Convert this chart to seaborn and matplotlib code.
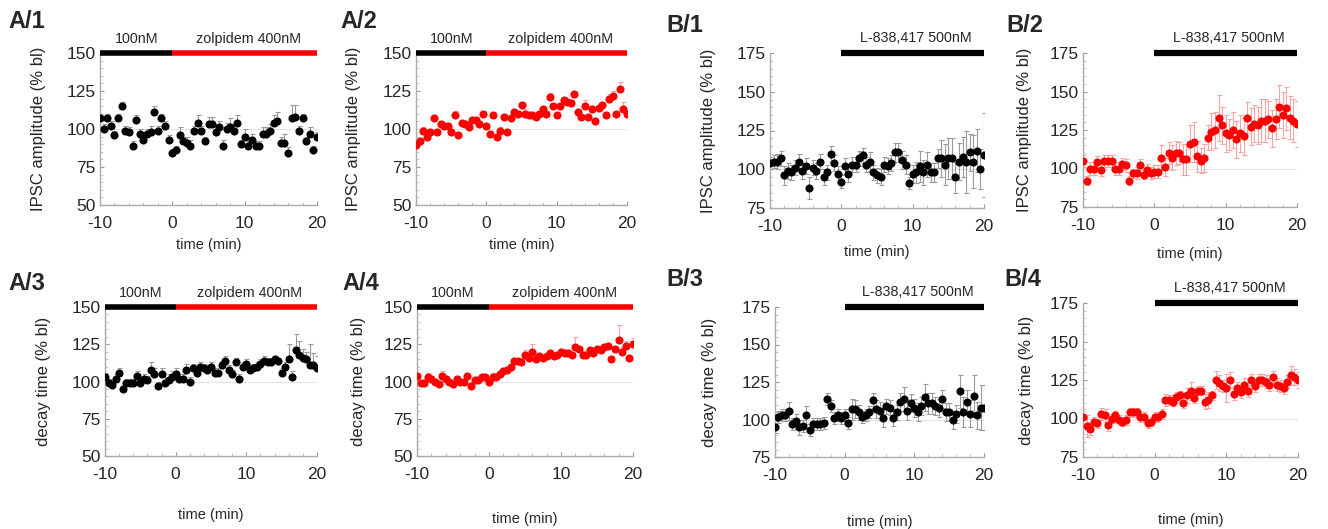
import numpy as np
import pandas as pd
import seaborn as sns
import matplotlib
matplotlib.use("Agg")
from matplotlib import pyplot as plt

# tiempo de registro (min), una muestra cada 30 s
time_min = np.arange(-10, 20.5, 0.5)

# A/1  IPSC amplitude, 100nM -> zolpidem 400nM (control)
a1_val = [107, 100, 107, 102, 96, 107, 115, 99, 98, 89,
          106, 97, 93, 97, 98, 111, 99, 107, 102, 93,
          84, 86, 96, 92, 91, 89, 99, 104, 99, 92,
          103, 103, 98, 101, 89, 100, 101, 99, 104, 90,
          95, 89, 93, 89, 89, 97, 97, 99, 104, 105,
          91, 91, 84, 107, 108, 99, 107, 92, 97, 86,
          95]
a1_err = [3, 3, 3, 3, 3, 3, 3, 3, 3, 3,
          3, 3, 3, 3, 4, 4, 3, 3, 3, 3,
          3, 3, 5, 3, 4, 4, 3, 5, 3, 3,
          5, 5, 4, 4, 4, 4, 6, 4, 5, 3,
          5, 3, 4, 3, 3, 4, 4, 4, 5, 6,
          4, 6, 4, 9, 8, 3, 3, 3, 4, 3,
          3]

# A/2
a2_val = [89.5, 92, 99, 95, 98, 107, 98, 103, 102, 102,
          98, 109, 96, 104, 103, 101, 106, 106, 103, 110,
          102, 97, 109, 95, 99, 108, 98, 107, 111, 110,
          116, 110, 109, 109, 108, 110, 113, 110, 121, 115,
          109, 115, 119, 118, 117, 123, 111, 108, 115, 108,
          113, 105, 114, 116, 109, 120, 122, 110, 126, 113,
          110]
a2_err = [2, 2, 2, 2, 2, 2, 2, 2, 2, 2,
          2, 3, 2, 2, 2, 2, 2, 2, 2, 2,
          2, 2, 2, 2, 2, 2, 2, 2, 2, 2,
          2, 3, 2, 2, 2, 2, 2, 2, 3, 2,
          2, 2, 2, 2, 2, 2, 2, 2, 4, 2,
          2, 2, 2, 2, 2, 3, 3, 2, 5, 5,
          2]

# A/3  decay time
a3_val = [103, 99, 97.5, 102, 106, 95, 99, 99, 99, 104,
          99, 102, 101, 108, 105, 97, 105, 99, 101, 103,
          105, 102, 102, 108, 100, 109, 106, 110, 109, 108,
          110, 106, 106, 111, 114, 108, 105, 113, 102, 110,
          112, 108, 109, 110, 112, 114, 113, 113, 115, 114,
          106, 110, 115, 103, 121, 118, 116, 115, 111, 111,
          109]
a3_err = [3, 3, 3, 3, 3, 2, 3, 3, 3, 3,
          4, 3, 3, 5, 4, 3, 4, 4, 4, 4,
          4, 3, 3, 4, 3, 3, 4, 3, 3, 3,
          3, 3, 3, 3, 3, 3, 3, 3, 3, 3,
          3, 3, 3, 3, 3, 3, 3, 2, 2, 2,
          3, 3, 10, 4, 11, 9, 6, 5, 14, 8,
          8]

# A/4
a4_val = [104, 99, 99, 103, 102, 100, 98, 104, 102, 100,
          98, 102, 100, 100, 104, 97, 101, 101, 103, 103,
          100, 103, 103, 105, 107, 108, 110, 114, 114, 113,
          118, 116, 120, 115, 117, 116, 117, 119, 117, 118,
          120, 119, 119, 118, 123, 122, 118, 118, 121, 119,
          122, 121, 123, 124, 115, 122, 128, 120, 124, 116,
          125]
a4_err = [2, 2, 2, 3, 2, 2, 2, 3, 2, 2,
          2, 2, 2, 2, 2, 2, 2, 2, 2, 2,
          2, 3, 2, 2, 2, 2, 2, 2, 2, 2,
          3, 2, 5, 2, 2, 2, 2, 2, 2, 2,
          2, 2, 2, 2, 7, 2, 2, 2, 2, 2,
          2, 2, 2, 2, 2, 2, 10, 3, 3, 2,
          4]

# B/1  IPSC amplitude, L-838,417 500nM
b1_val = [104, 105, 105, 107, 96, 99, 98, 101, 105, 99,
          102, 88, 101, 99, 105, 95, 98, 110, 104, 97,
          92, 102, 97, 103, 103, 107, 109, 103, 105, 98,
          96, 95, 103, 102, 104, 111, 111, 106, 103, 91,
          97, 98, 102, 98, 103, 98, 98, 107, 107, 103,
          107, 107, 95, 105, 108, 105, 111, 105, 112, 100,
          109]
b1_err = [4, 4, 5, 5, 6, 5, 5, 5, 5, 5,
          5, 7, 5, 5, 5, 5, 5, 5, 5, 5,
          4, 5, 5, 5, 5, 5, 5, 5, 6, 5,
          5, 5, 5, 5, 5, 6, 6, 6, 6, 4,
          6, 7, 10, 8, 8, 6, 6, 6, 12, 13,
          13, 13, 10, 12, 13, 20, 12, 17, 14, 13,
          27]

# B/2
b2_val = [105, 92, 100, 100, 104, 99, 105, 105, 105, 100,
          100, 103, 102, 92, 97, 97, 102, 96, 99, 97,
          98, 98, 107, 101, 110, 107, 110, 110, 106, 106,
          116, 117, 108, 105, 107, 120, 124, 125, 133, 128,
          123, 122, 125, 119, 123, 121, 133, 127, 129, 128,
          131, 131, 132, 126, 132, 140, 135, 139, 133, 131,
          129]
b2_err = [4, 3, 4, 4, 4, 4, 4, 4, 4, 4,
          4, 4, 4, 3, 3, 4, 4, 3, 4, 4,
          4, 4, 8, 6, 7, 8, 8, 7, 10, 10,
          12, 13, 10, 8, 9, 8, 12, 12, 15, 12,
          12, 10, 12, 12, 12, 12, 10, 12, 12, 12,
          14, 14, 12, 12, 13, 14, 15, 14, 14, 14,
          15]

# B/3  decay time
b3_val = [95, 102, 103, 103, 106, 97, 99, 95, 96, 103,
          93, 97, 97, 97, 98, 114, 109, 101, 103, 101,
          103, 98, 107, 107, 105, 102, 103, 105, 113, 107,
          106, 101, 109, 108, 101, 105, 112, 114, 106, 111,
          108, 105, 109, 115, 111, 111, 109, 108, 114, 105,
          105, 100, 104, 119, 105, 112, 104, 116, 103, 108,
          108]
b3_err = [4, 4, 4, 4, 6, 4, 5, 5, 4, 6,
          4, 4, 4, 4, 4, 4, 4, 4, 4, 4,
          4, 4, 7, 6, 5, 4, 4, 4, 5, 6,
          6, 6, 5, 5, 5, 5, 6, 8, 6, 6,
          6, 6, 6, 9, 7, 7, 6, 6, 6, 6,
          6, 6, 6, 11, 10, 8, 9, 14, 9, 15,
          15]

# B/4
b4_val = [101, 95, 93.5, 98, 97, 103, 102, 96, 100, 102,
          99, 98, 99, 104, 104, 104, 101, 101, 97, 98,
          101, 101, 103, 112, 112, 111, 114, 115, 110, 115,
          118, 113, 118, 118, 111, 112, 115, 125, 123, 121,
          120, 125, 116, 120, 117, 122, 118, 125, 121, 125,
          125, 124, 122, 127, 122, 121, 120, 124, 128, 127,
          125]
b4_err = [5, 7, 4, 3, 3, 4, 4, 4, 3, 3,
          3, 3, 3, 3, 3, 3, 3, 3, 3, 3,
          3, 3, 3, 4, 3, 3, 3, 3, 3, 5,
          6, 3, 3, 3, 5, 5, 3, 6, 5, 4,
          9, 5, 4, 4, 4, 4, 4, 4, 4, 4,
          4, 4, 4, 4, 4, 4, 4, 4, 6, 5,
          5]

sns.set_style("white")
plt.rcParams["font.family"] = ["Liberation Sans", "DejaVu Sans"]
plt.rcParams["axes.unicode_minus"] = False

RED = "#ff0000"
W, H = 1328, 529
fig = plt.figure(figsize=(W / 100, H / 100), dpi=100)

# nombre, valores, error, color, ylabel, tipo, caja en px (izq, der, arriba, abajo), etiqueta y, xlabel y, etiqueta panel
paneles = [
    ("A/1", a1_val, a1_err, "black", "IPSC amplitude (% bl)", "A", (100, 317, 53, 205), 46, 238, (8, 22)),
    ("A/2", a2_val, a2_err, RED, "IPSC amplitude (% bl)", "A", (416, 627, 53, 205), 361, 238, (340, 22)),
    ("B/1", b1_val, b1_err, "black", "IPSC amplitude (% bl)", "B", (770, 984, 53, 208), 716, 245, (666, 25)),
    ("B/2", b2_val, b2_err, RED, "IPSC amplitude (% bl)", "B", (1083, 1297, 53, 207), 1032, 247, (1006, 25)),
    ("A/3", a3_val, a3_err, "black", "decay time (% bl)", "A", (105, 317, 307, 456), 51, 508, (8, 283)),
    ("A/4", a4_val, a4_err, RED, "decay time (% bl)", "A", (417, 633, 307, 456), 366, 512, (342, 283)),
    ("B/3", b3_val, b3_err, "black", "decay time (% bl)", "B", (775, 984, 307, 457), 717, 515, (666, 280)),
    ("B/4", b4_val, b4_err, RED, "decay time (% bl)", "B", (1083, 1298, 303, 457), 1034, 513, (1004, 280)),
]

for nombre, vals, err, col, ylab, tipo, (l, r, t, b), ylab_x, xlab_y, (px, py) in paneles:
    ax = fig.add_axes([l / W, 1 - b / H, (r - l) / W, (b - t) / H])
    df = pd.DataFrame({"time": time_min, "val": vals, "err": err})

    if tipo == "A":
        ymin, ymax = 50, 150
        yerr = [np.zeros(len(df)), df.err]
    else:
        ymin, ymax = 75, 175
        yerr = df.err

    ecol = "#9a9a9a" if col == "black" else "#f5a3a3"
    ax.axhline(100, color="#e4e4e4", lw=0.8, zorder=1)
    ax.errorbar(df.time, df.val, yerr=yerr, fmt="none", ecolor=ecol,
                elinewidth=0.8, capsize=1.8, capthick=0.8, zorder=2)
    sns.scatterplot(data=df, x="time", y="val", ax=ax, color=col, s=34,
                    linewidth=0, zorder=3, legend=False)

    ax.set_xlim(-10, 20)
    ax.set_ylim(ymin, ymax)
    ax.set_xticks([-10, 0, 10, 20])
    ax.set_xticks(np.arange(-10, 21, 2), minor=True)
    ax.set_yticks(np.arange(ymin, ymax + 1, 25))
    ax.set_yticks(np.arange(ymin, ymax + 1, 5), minor=True)
    ax.tick_params(axis="both", which="major", labelsize=12.5, length=3, direction="in",
                   color="#999999", bottom=True, left=True)
    ax.tick_params(axis="x", which="major", pad=8)
    ax.tick_params(axis="y", which="major", pad=3)
    ax.tick_params(axis="both", which="minor", length=2, direction="in", color="#bbbbbb",
                   bottom=True, left=True)
    for s in ["top", "right"]:
        ax.spines[s].set_visible(False)
    for s in ["left", "bottom"]:
        ax.spines[s].set_color("#aaaaaa")
        ax.spines[s].set_linewidth(1)

    ax.set_ylabel(ylab, fontsize=12)
    ax.set_xlabel("time (min)", fontsize=10.5)
    ax.yaxis.set_label_coords((ylab_x - l) / (r - l), 0.5)
    ax.xaxis.set_label_coords(0.5, (b - xlab_y) / (b - t))

    # barras de aplicacion del farmaco
    if tipo == "A":
        ax.plot([-10, 0], [ymax, ymax], color="black", lw=4, solid_capstyle="butt", clip_on=False, zorder=4)
        ax.plot([0, 20], [ymax, ymax], color=RED, lw=4, solid_capstyle="butt", clip_on=False, zorder=4)
        ax.annotate("100nM", xy=(-5, ymax), xytext=(0, 5), textcoords="offset points",
                    ha="center", va="bottom", fontsize=10.3, annotation_clip=False)
        ax.annotate("zolpidem 400nM", xy=(10.5, ymax), xytext=(0, 5), textcoords="offset points",
                    ha="center", va="bottom", fontsize=10.3, annotation_clip=False)
    else:
        ax.plot([0, 20], [ymax, ymax], color="black", lw=4.5, solid_capstyle="butt", clip_on=False, zorder=4)
        ax.annotate("L-838,417 500nM", xy=(10.5, ymax), xytext=(0, 6), textcoords="offset points",
                    ha="center", va="bottom", fontsize=10.3, annotation_clip=False)

    fig.text(px / W, 1 - py / H, nombre, fontsize=17, fontweight="bold", ha="left", va="center")

plt.savefig("out.png", dpi=100)
